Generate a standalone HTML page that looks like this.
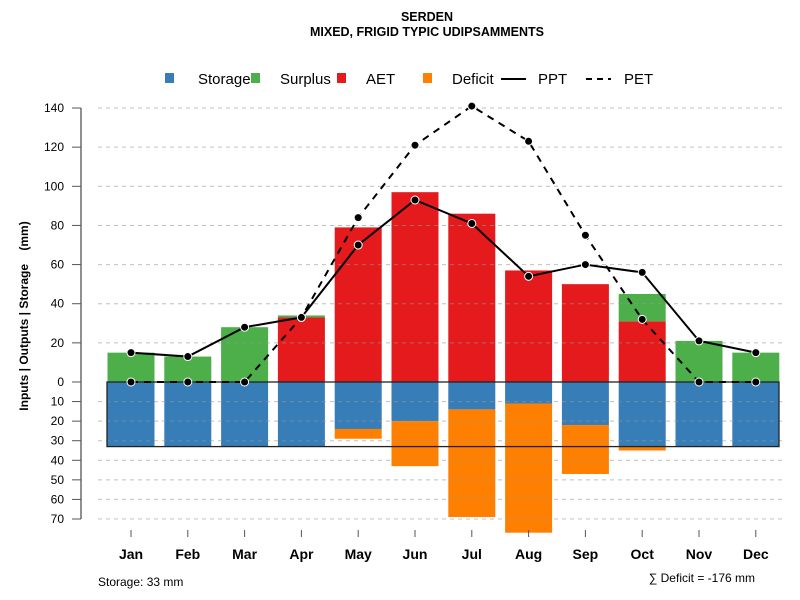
<!DOCTYPE html>
<html><head><meta charset="utf-8"><style>
body{margin:0;background:#fff}
svg{display:block;font-family:"Liberation Sans",Arial,sans-serif}
</style></head><body>
<svg id="chart" width="800" height="600">
<text x="427" y="21" text-anchor="middle" font-size="12.5" font-weight="bold">SERDEN</text>
<text x="427" y="36" text-anchor="middle" font-size="12.5" font-weight="bold">MIXED, FRIGID TYPIC UDIPSAMMENTS</text>
<g font-size="15">
<g><rect x="165" y="73" width="9" height="10" fill="#377eb8"/><text x="198" y="84">Storage</text></g>
<g><rect x="251" y="73" width="9" height="10" fill="#4daf4a"/><text x="280" y="84">Surplus</text></g>
<g><rect x="337" y="73" width="9" height="10" fill="#e41a1c"/><text x="366" y="84">AET</text></g>
<g><rect x="423" y="73" width="9" height="10" fill="#ff7f00"/><text x="452" y="84">Deficit</text></g>
<g><line x1="501" y1="79" x2="526" y2="79" stroke="#000" stroke-width="2"/><text x="538" y="84">PPT</text></g>
<g><line x1="586" y1="79" x2="611" y2="79" stroke="#000" stroke-width="2" stroke-dasharray="6,5"/><text x="624" y="84">PET</text></g>
</g>
<text transform="translate(28,316) rotate(-90)" text-anchor="middle" font-size="12" font-weight="bold">Inputs | Outputs | Storage&#160;&#160;&#160;&#160;(mm)</text>
<g id="plot"></g>
<text x="98" y="586" font-size="12">Storage: 33 mm</text>
<text x="755" y="582" text-anchor="end" font-size="12">∑ Deficit = -176 mm</text>
</svg>
<script>
const months=["Jan","Feb","Mar","Apr","May","Jun","Jul","Aug","Sep","Oct","Nov","Dec"];
const storage=[33,33,33,33,24,20,14,11,22,33,33,33];
const deficit=[0,0,0,0,5,23,55,66,25,2,0,0];
const aet=[0,0,0,33,79,97,86,57,50,31,0,0];
const surplus=[15,13,28,1,0,0,0,0,0,14,21,15];
const ppt=[15,13,28,33,70,93,81,54,60,56,21,15];
const pet=[0,0,0,33,84,121,141,123,75,32,0,0];
const capacity=33;
const upTicks=[0,20,40,60,80,100,120,140];
const downTicks=[10,20,30,40,50,60,70];
const NS="http://www.w3.org/2000/svg";
const g=document.getElementById("plot");
const y0=382,k=1.957;
const yUp=v=>y0-v*k, yDn=v=>y0+v*k;
const xc=i=>131+i*56.8;
const bw=47;
function mk(t,a){const e=document.createElementNS(NS,t);for(const n in a)e.setAttribute(n,a[n]);g.appendChild(e);return e;}
function bar(i,yA,yB,c,name){const r=mk("rect",{x:xc(i)-bw/2,y:Math.min(yA,yB),width:bw,height:Math.abs(yB-yA),fill:c});

}
months.forEach((m,i)=>{
 bar(i,y0,yDn(storage[i]),"#377eb8","storage-bar-"+m.toLowerCase());
 if(deficit[i]>0) bar(i,yDn(storage[i]),yDn(storage[i]+deficit[i]),"#ff7f00","deficit-bar-"+m.toLowerCase());
 if(aet[i]>0) bar(i,y0,yUp(aet[i]),"#e41a1c","aet-bar-"+m.toLowerCase());
 if(surplus[i]>0) bar(i,yUp(aet[i]),yUp(aet[i]+surplus[i]),"#4daf4a","surplus-bar-"+m.toLowerCase());
});
upTicks.forEach(v=>{if(v>0){const l=mk("line",{x1:98,x2:785,y1:yUp(v),y2:yUp(v),stroke:"rgba(150,150,150,0.6)","stroke-dasharray":"4,4"});

}});
downTicks.forEach(v=>{const l=mk("line",{x1:98,x2:785,y1:yDn(v),y2:yDn(v),stroke:"rgba(150,150,150,0.6)","stroke-dasharray":"4,4"});

});
const box=mk("rect",{x:107,y:y0,width:672,height:capacity*k,fill:"none",stroke:"#222","stroke-width":1.3});


const ax=mk("line",{x1:81,x2:81,y1:yUp(140),y2:yDn(70),stroke:"#555","stroke-width":1.3});


function ytick(y,label){const t=mk("line",{x1:72,x2:81,y1:y,y2:y,stroke:"#555"});


const tx=mk("text",{x:64,y:y+4,"text-anchor":"end","font-size":12});tx.textContent=label;

}
upTicks.forEach(v=>ytick(yUp(v),v));
downTicks.forEach(v=>ytick(yDn(v),v));
months.forEach((m,i)=>{const t=mk("line",{x1:xc(i),x2:xc(i),y1:530,y2:537,stroke:"#555"});


const tx=mk("text",{x:xc(i),y:559,"text-anchor":"middle","font-size":14,"font-weight":"bold"});tx.textContent=m;

});
function series(vals,dash,name){const p=mk("polyline",{points:vals.map((v,i)=>xc(i)+","+yUp(v)).join(" "),fill:"none",stroke:"#000","stroke-width":2,"stroke-dasharray":dash});


vals.forEach((v,i)=>{const c=mk("circle",{cx:xc(i),cy:yUp(v),r:4,fill:"#000",stroke:"#fff","stroke-width":1});

});}
series(pet,"7,6","pet");
series(ppt,"none","ppt");
</script>
</body></html>
